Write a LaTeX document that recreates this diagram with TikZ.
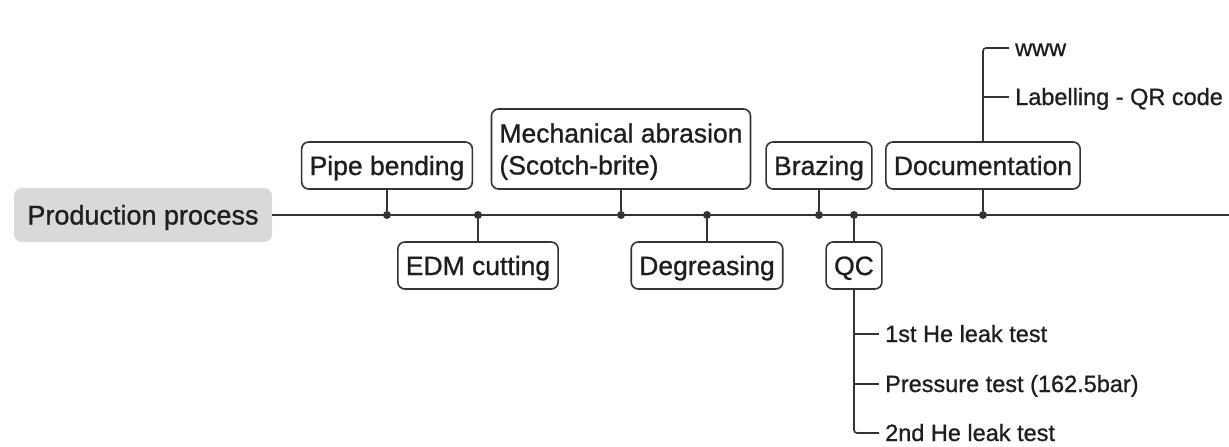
\documentclass[tikz,border=0pt]{standalone}
\usepackage{fontspec}
\setmainfont{Liberation Sans}[BoldFont={Liberation Sans}, BoldFeatures={FakeBold=0.9}]
\usepackage{xcolor}
\usepackage{tikz}
\usetikzlibrary{positioning}
\definecolor{inkgray}{HTML}{333333}
\definecolor{rootgray}{HTML}{D9D9D9}
\definecolor{textblack}{HTML}{1E1E1E}
\tikzstyle{stepbox} = [rectangle, rounded corners=7pt, draw=inkgray, line width=1.6pt, fill=white, minimum height=47pt, inner xsep=8pt, inner ysep=4pt, text height=19pt, text depth=0pt, text=textblack, font=\fontsize{26.5}{32}\selectfont\bfseries]
\tikzstyle{rootbox} = [rectangle, rounded corners=8pt, fill=rootgray, minimum width=258pt, minimum height=54pt, text height=19pt, text depth=0pt, text=textblack, font=\fontsize{27}{32}\selectfont\bfseries]
\tikzstyle{joint} = [circle, fill=inkgray, inner sep=0pt, minimum size=8pt]
\tikzstyle{leaf} = [anchor=west, inner xsep=6pt, inner ysep=0pt, text height=16pt, text depth=0pt, text=textblack, font=\fontsize{23.5}{28}\selectfont\bfseries]
\tikzstyle{wire} = [draw=inkgray, line width=1.6pt]

\begin{document}
\begin{tikzpicture}[x=1pt, y=-1pt, node distance=21pt]
    \useasboundingbox (0,0) rectangle (1229,447);
    \node(root)[rootbox] at (143,215) {Production process};
    \coordinate(lineend) at (1229,215);
    \draw[wire](root.east) -- (root.east -| lineend);

    \node(j1)[joint] at (387,215) {};
    \node(j2)[joint] at (478,215) {};
    \node(j3)[joint] at (621,215) {};
    \node(j4)[joint] at (707,215) {};
    \node(j5)[joint] at (819,215) {};
    \node(j6)[joint] at (854,215) {};
    \node(j7)[joint] at (983,215) {};

    \node(pipe)[stepbox, above=of j1] {Pipe bending};
    \node(edm)[stepbox, below=22pt of j2] {EDM cutting};
    \node(mech)[stepbox, above=of j3, align=left, minimum height=80pt, text height=51pt] {Mechanical abrasion\\(Scotch-brite)};
    \node(degr)[stepbox, below=22pt of j4] {Degreasing};
    \node(braz)[stepbox, above=of j5] {Brazing};
    \node(qc)[stepbox, below=22pt of j6] {QC};
    \node(doc)[stepbox, above=of j7] {Documentation};

    \draw[wire](pipe) -- (j1);
    \draw[wire](edm) -- (j2);
    \draw[wire](mech) -- (j3);
    \draw[wire](degr) -- (j4);
    \draw[wire](braz) -- (j5);
    \draw[wire](qc) -- (j6);
    \draw[wire](doc) -- (j7);

    \node(www)[leaf] at (1009,48) {www};
    \node(qrlabel)[leaf] at (1009,97) {Labelling - QR code};
    \draw[wire, rounded corners=3pt](doc) |- (www);
    \draw[wire](doc) |- (qrlabel);

    \node(heleak1)[leaf] at (879,334) {1st He leak test};
    \node(pressure)[leaf] at (879,384) {Pressure test (162.5bar)};
    \node(heleak2)[leaf] at (879,433) {2nd He leak test};
    \draw[wire, rounded corners=3pt](qc) |- (heleak2);
    \draw[wire](qc) |- (heleak1);
    \draw[wire](qc) |- (pressure);
  \end{tikzpicture}
\end{document}
